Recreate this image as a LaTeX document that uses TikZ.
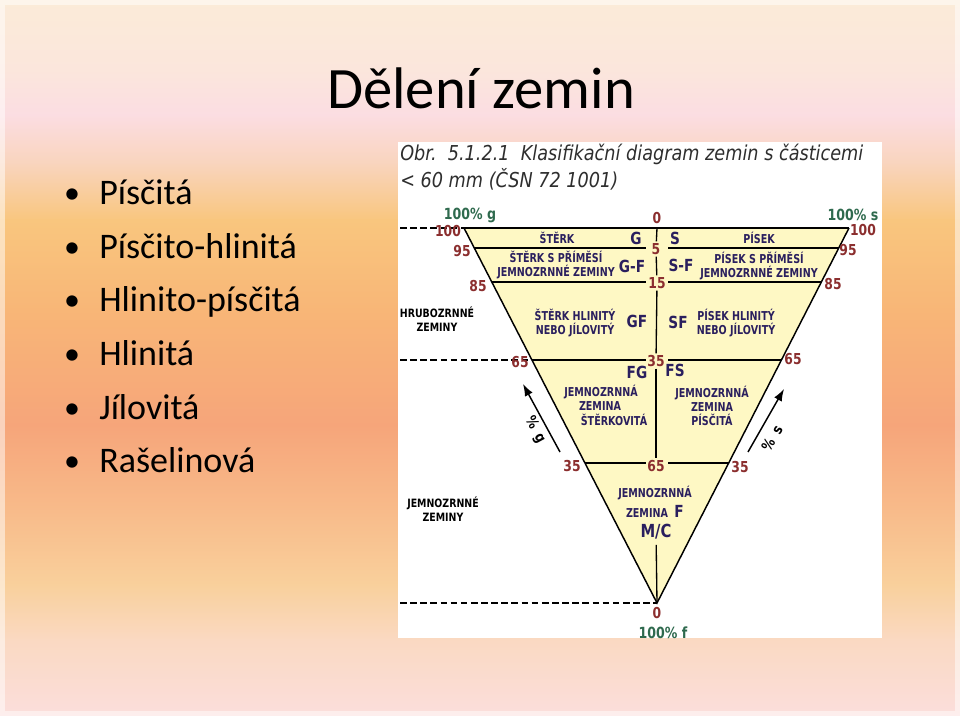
\documentclass[tikz,border=0pt]{standalone}
\usepackage{fontspec}
\setmainfont{Carlito}
\newfontfamily\diagfont[FakeStretch=0.82]{DejaVu Sans}
\newfontfamily\zonefont[FakeStretch=0.78]{DejaVu Sans}
\newfontfamily\capfont[FakeStretch=0.86]{DejaVu Sans}
\usetikzlibrary{positioning,calc,arrows.meta}

\definecolor{bga}{HTML}{FBEBD8}
\definecolor{bgb}{HTML}{FBE6DC}
\definecolor{bgc}{HTML}{FBDDE2}
\definecolor{bgd}{HTML}{F9D4BC}
\definecolor{bge}{HTML}{F9C67E}
\definecolor{bgf}{HTML}{F8B677}
\definecolor{bgg}{HTML}{F6A57A}
\definecolor{bgh}{HTML}{F8BC8B}
\definecolor{bgi}{HTML}{F9D09C}
\definecolor{bgj}{HTML}{FAD9C2}
\definecolor{bgk}{HTML}{FBDEDC}
\definecolor{numred}{HTML}{8B2E2E}
\definecolor{pctgreen}{HTML}{2F6A4E}
\definecolor{zonenavy}{HTML}{2A1F5E}
\definecolor{soilfill}{HTML}{FEF8C4}
\definecolor{captext}{HTML}{2E2E2E}

\begin{document}
\begin{tikzpicture}[
    x=0.75pt, y=-0.75pt,
    num/.style={font=\diagfont\bfseries\fontsize{11.3}{11}\selectfont, text=numred, inner sep=0pt, outer sep=1.5pt},
    pct/.style={font=\diagfont\bfseries\fontsize{11.5}{12}\selectfont, text=pctgreen, inner sep=0pt},
    zone/.style={font=\zonefont\bfseries\fontsize{9.2}{10.5}\selectfont, text=zonenavy, align=center, inner sep=0pt},
    soilcode/.style={font=\diagfont\bfseries\fontsize{12.5}{13}\selectfont, text=zonenavy, inner sep=0pt},
    sidetext/.style={font=\diagfont\bfseries\fontsize{8.6}{10.5}\selectfont, align=center, inner sep=0pt},
    arrowtext/.style={font=\diagfont\bfseries\fontsize{11}{12}\selectfont, inner sep=0pt},
    captext/.style={font=\capfont\itshape\fontsize{15.4}{18}\selectfont, text=captext, anchor=base west, inner sep=0pt},
    hline/.style={line width=1.5pt},
    edgeline/.style={line width=1.1pt},
    midline/.style={line width=1pt},
    dashline/.style={line width=1.3pt, dash pattern=on 5pt off 2.6pt},
    pctarrow/.style={line width=1.1pt, -{Latex[length=9pt,width=6.5pt]}},
    item/.style={font=\fontsize{27}{32}\selectfont, anchor=base west, inner sep=0pt},
    dot/.style={font=\fontsize{24}{32}\selectfont, anchor=base, inner sep=0pt}
]
\useasboundingbox (0,0) rectangle (960,716);
\foreach \ya/\yb/\ca/\cb in {0/70/bga/bgb, 70/115/bgb/bgc, 115/165/bgc/bgd, 165/220/bgd/bge,
    220/310/bge/bgf, 310/425/bgf/bgg, 425/515/bgg/bgh, 515/585/bgh/bgi, 585/640/bgi/bgj, 640/716/bgj/bgk}
  \fill[top color=\ca, bottom color=\cb] (0,\ya-0.6) rectangle (960,\yb+0.6);
\draw[white, opacity=0.5, line width=3.5pt] (2.5,2.5) rectangle (957.5,713.5);

\node[font=\fontsize{44}{50}\selectfont, anchor=base, inner sep=0pt] (title) at (481,109) {Dělení zemin};
\foreach \txt [count=\i from 0] in {Písčitá, Písčito-hlinitá, Hlinito-písčitá, Hlinitá, Jílovitá, Rašelinová} {
  \node[dot] (dot\i) at (72,204+53.5*\i) {•};
  \node[item] (item\i) at (99,205+53.5*\i) {\txt};
}

\fill[white] (398,142) rectangle (882,638);
\node[captext] (cap1) at (400,160.7) {Obr.\ \ 5.1.2.1\ \ Klasifikační diagram zemin s částicemi};
\node[captext] (cap2) at (400,187.7) {< 60 mm (ČSN 72 1001)};

\coordinate (gtop) at (464,228);
\coordinate (stop) at (849,228);
\coordinate (apex) at (657,603);
\coordinate (gapl) at (646,0);
\coordinate (gapr) at (668,0);
\coordinate (dashx) at (400,0);
\fill[soilfill] (gtop) -- (stop) -- (apex) -- cycle;
\foreach \lv/\t in {95/0.053, 85/0.144, 65/0.352, 35/0.627} {
  \coordinate (L\lv) at ($(gtop)!\t!(apex)$);
  \coordinate (R\lv) at ($(stop)!\t!(apex)$);
  \draw[hline] (L\lv) -- (L\lv -| gapl);
  \draw[hline] (R\lv) -- (R\lv -| gapr);
}
\draw[hline] (gtop) -- (stop);
\draw[edgeline] (gtop) -- (apex) -- (stop);
\draw[dashline] (gtop -| dashx) -- (gtop);
\draw[dashline] (L65 -| dashx) -- (L65);
\draw[dashline] (apex -| dashx) -- (apex);

\node[num] (l100) at (448,231) {100};
\node[num] (l95) at (462,251) {95};
\node[num] (l85) at (478,286) {85};
\node[num] (l65) at (520,362) {65};
\node[num] (l35) at (572,466) {35};
\node[num] (r100) at (863,230) {100};
\node[num] (r95) at (848,250) {95};
\node[num] (r85) at (833,284) {85};
\node[num] (r65) at (793,359) {65};
\node[num] (r35) at (740,467) {35};
\node[num] (c0) at (657,218) {0};
\node[num] (c5) at (656,249) {5};
\node[num] (c15) at (657,283) {15};
\node[num] (c35) at (656,361) {35};
\node[num] (c65) at (656,466) {65};
\node[num] (c0b) at (657,613) {0};

\node[pct] (pg) at (470,215) {100\% g};
\node[pct] (ps) at (853,215) {100\% s};
\node[pct] (pf) at (663,633) {100\% f};

\node[zone] (sterk) at (557,238) {ŠTĚRK};
\node[soilcode] (G) at (636,238) {G};
\node[soilcode] (S) at (675,238) {S};
\node[zone] (pisek) at (759,238) {PÍSEK};
\node[zone] (sterkf) at (556,265.5) {ŠTĚRK S PŘÍMĚSÍ\\JEMNOZRNNÉ ZEMINY};
\node[soilcode] (GdF) at (632,266) {G-F};
\node[soilcode] (SdF) at (681,265) {S-F};
\node[zone] (pisekf) at (759,266.5) {PÍSEK S PŘÍMĚSÍ\\JEMNOZRNNÉ ZEMINY};
\node[zone] (sterkh) at (575,323.5) {ŠTĚRK HLINITÝ\\NEBO JÍLOVITÝ};
\node[soilcode] (GF) at (637,321) {GF};
\node[soilcode] (SF) at (678,322) {SF};
\node[zone] (pisekh) at (736,323.5) {PÍSEK HLINITÝ\\NEBO JÍLOVITÝ};
\node[soilcode] (FG) at (637,372) {FG};
\node[soilcode] (FS) at (675,370) {FS};
\node[zone] (fineg1) at (601,392) {JEMNOZRNNÁ};
\node[zone] (fineg2) at (600,406) {ZEMINA};
\node[zone] (fineg3) at (614,420) {ŠTĚRKOVITÁ};
\node[zone] (fines) at (712,406) {JEMNOZRNNÁ\\ZEMINA\\PÍSČITÁ};
\node[zone] (finef1) at (655,493) {JEMNOZRNNÁ};
\node[zone] (finef2) at (647,513) {ZEMINA};
\node[soilcode] (F) at (679,511) {F};
\node[soilcode, font=\diagfont\bfseries\fontsize{13.5}{14}\selectfont, outer sep=4pt] (mc) at (656,532) {M/C};
\node[sidetext] (coarse) at (437,319) {HRUBOZRNNÉ\\ZEMINY};
\node[sidetext] (fine) at (443,509.5) {JEMNOZRNNÉ\\ZEMINY};

\draw[midline] (gtop -| apex) -- (c5);
\draw[midline] (c5) -- (c15);
\draw[midline] (c15) -- (c35);
\draw[midline] (c35) -- (c65);
\draw[midline] (mc) -- (apex);

\coordinate (gtail) at (560,452);
\coordinate (ghead) at (523,384);
\coordinate (stail) at (748,452);
\coordinate (shead) at (784,389);
\draw[pctarrow] (gtail) -- (ghead);
\draw[pctarrow] (stail) -- (shead);
\node[arrowtext, rotate=-61.5] (glabel) at (535,430) {\%\hspace{5pt}g};
\node[arrowtext, rotate=60.3] (slabel) at (772,438) {\%\hspace{6pt}s};
\end{tikzpicture}
\end{document}
